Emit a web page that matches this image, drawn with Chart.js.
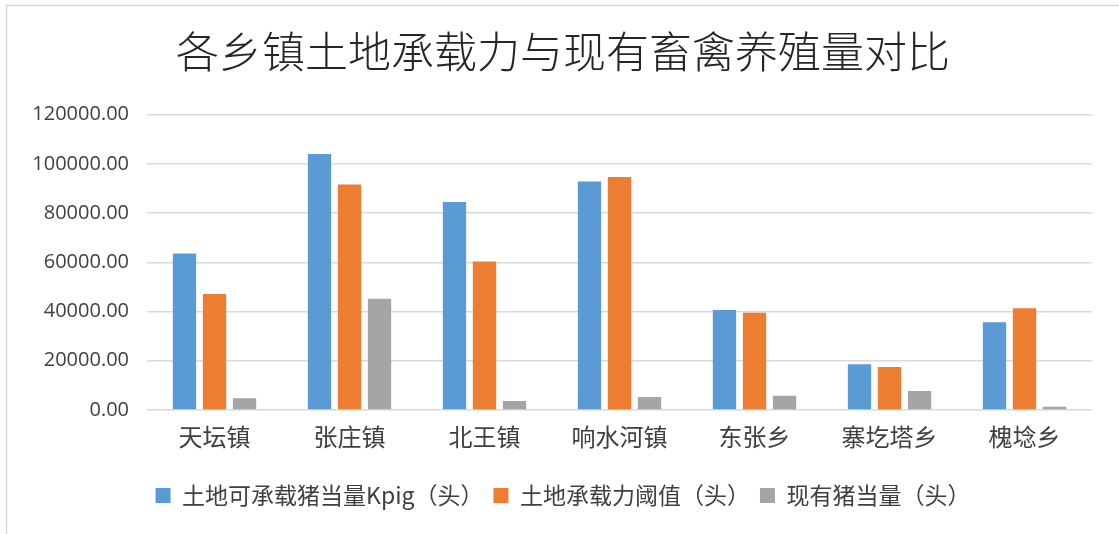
<!DOCTYPE html>
<html>
<head>
<meta charset="utf-8">
<script src="https://cdn.jsdelivr.net/npm/chart.js@4/dist/chart.umd.min.js"></script>
<style>
html,body{margin:0;padding:0;background:#fff;}
#wrap{position:relative;width:1119px;height:534px;}
</style>
</head>
<body>
<div id="wrap"><canvas id="c" width="1119" height="534"></canvas></div>
<script>
const titleText = '各乡镇土地承载力与现有畜禽养殖量对比';
const categories = ['天坛镇', '张庄镇', '北王镇', '响水河镇', '东张乡', '寨圪塔乡', '槐埝乡'];
const seriesNames = ['土地可承载猪当量Kpig（头）', '土地承载力阈值（头）', '现有猪当量（头）'];
const capacityKpig = [63600, 104000, 84500, 92800, 40600, 18600, 35600];
const threshold = [47100, 91600, 60300, 94700, 39500, 17500, 41300];
const currentPigs = [4800, 45200, 3700, 5300, 5800, 7700, 1300];
const yTicks = [0, 20000, 40000, 60000, 80000, 100000, 120000];

const colors = ['#5B9BD5', '#ED7D31', '#A5A5A5'];

const borderPlugin = {
  id: 'outerBorder',
  beforeDraw(chart) {
    const ctx = chart.ctx;
    ctx.save();
    ctx.fillStyle = '#ffffff';
    ctx.fillRect(0, 0, chart.width, chart.height);
    ctx.strokeStyle = '#d9d9d9';
    ctx.lineWidth = 1.5;
    ctx.beginPath();
    ctx.moveTo(6.5, chart.height + 2);
    ctx.lineTo(6.5, 5.5);
    ctx.lineTo(chart.width + 2, 5.5);
    ctx.stroke();
    ctx.restore();
  }
};

new Chart(document.getElementById('c'), {
  type: 'bar',
  data: {
    labels: categories,
    datasets: [
      { label: seriesNames[0], data: capacityKpig, backgroundColor: colors[0] },
      { label: seriesNames[1], data: threshold, backgroundColor: colors[1] },
      { label: seriesNames[2], data: currentPigs, backgroundColor: colors[2] }
    ]
  },
  options: {
    responsive: false,
    animation: false,
    devicePixelRatio: 1,
    categoryPercentage: 0.667,
    barPercentage: 0.777,
    layout: { padding: { left: 34, right: 27, top: 0, bottom: 17 } },
    plugins: {
      title: {
        display: true,
        text: titleText,
        color: '#262626',
        font: { family: "'Noto Sans CJK SC', sans-serif", size: 43, weight: 300 },
        padding: { top: 26, bottom: 37 }
      },
      legend: {
        display: true,
        position: 'bottom',
        labels: {
          boxWidth: 15,
          boxHeight: 15,
          padding: 10,
          color: '#404040',
          font: { family: "'Noto Sans CJK SC', sans-serif", size: 23 }
        }
      },
      tooltip: { enabled: false }
    },
    scales: {
      x: {
        grid: { display: false, drawTicks: false },
        border: { display: false },
        ticks: {
          color: '#404040',
          padding: 12,
          font: { family: "'Noto Sans CJK SC', sans-serif", size: 24 }
        },
        afterFit(scale) { scale.height = 64; }
      },
      y: {
        min: 0,
        max: 120000,
        afterBuildTicks(scale) { scale.ticks = yTicks.map(v => ({ value: v })); },
        grid: { color: '#d9d9d9', lineWidth: 1.5, drawTicks: false },
        border: { display: false },
        ticks: {
          color: '#404040',
          padding: 18,
          font: { family: "'Open Sans', sans-serif", size: 20 },
          callback: (v) => Number(v).toFixed(2)
        },
        afterFit(scale) { scale.width = 113; }
      }
    }
  },
  plugins: [borderPlugin]
});
</script>
</body>
</html>
